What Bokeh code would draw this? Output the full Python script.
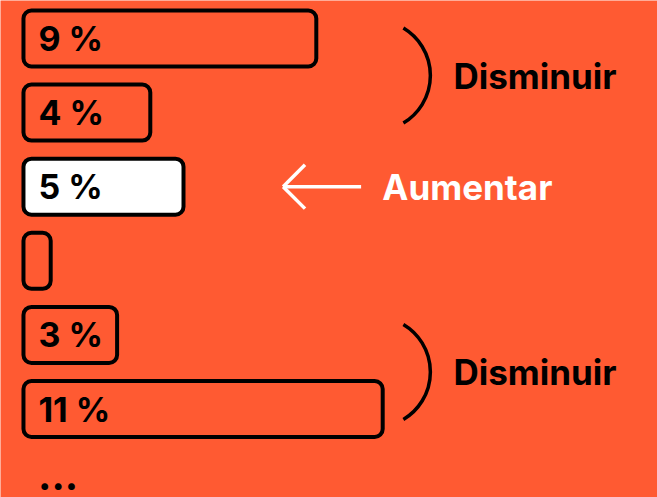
import numpy as np
from bokeh.plotting import figure
from bokeh.models import Range1d
from bokeh.core.properties import value
from bokeh.embed import file_html
from bokeh.resources import INLINE

# ---- data ----
labels = ["9 %", "4 %", "5 %", "", "3 %", "11 %"]
values = [9, 4, 5, 0, 3, 11]
highlight = [False, False, True, False, False, False]
rows = list(range(len(values)))

group_text = ["Disminuir", "Aumentar", "Disminuir"]
group_row = [0.5, 2, 4.5]
group_kind = ["bracket", "arrow", "bracket"]

# ---- style ----
BG = "#FF5A32"
FONT = "Inter"
PX_PER_UNIT = 33.2
ROW_PX = 74.1
W, H = 657, 497
X0_PX = 17      # pixel of value 0
Y0_PX = 38      # pixel of first row center

p = figure(width=W, height=H, output_backend="svg", toolbar_location=None,
           x_range=Range1d(-X0_PX / PX_PER_UNIT, (W - X0_PX) / PX_PER_UNIT),
           y_range=Range1d((H - Y0_PX) / ROW_PX, -Y0_PX / ROW_PX),
           min_border=0, background_fill_color=BG, border_fill_color=BG,
           outline_line_color=None)
p.xaxis.visible = False
p.yaxis.visible = False
p.xgrid.visible = False
p.ygrid.visible = False

bar_left = 0.18
disp_right = list(np.maximum(np.array(values, dtype=float), 1.0))
fills = ["white" if h else BG for h in highlight]

p.hbar(y=rows, left=bar_left, right=disp_right, height=0.756,
       fill_color=fills, line_color="black", line_width=4, border_radius=8)

p.text(x=[0.63] * len(rows), y=rows, text=labels, text_font=value(FONT),
       text_font_style="bold", text_font_size="34px", text_color="black",
       text_baseline="middle", text_align="left")

# brackets
b_rows = [r for r, k in zip(group_row, group_kind) if k == "bracket"]
b_text = [t for t, k in zip(group_text, group_kind) if k == "bracket"]
p.arc(x=[10.77] * len(b_rows), y=b_rows, radius=55.3, radius_units="screen",
      start_angle=-1.033, end_angle=1.033, line_color="black", line_width=3.5)
p.text(x=[13.13] * len(b_rows), y=b_rows, text=b_text, text_font=value(FONT),
       text_font_style="bold", text_font_size="35px", text_color="black",
       text_baseline="middle", text_align="left")

# arrow
a_rows = [r for r, k in zip(group_row, group_kind) if k == "arrow"]
a_text = [t for t, k in zip(group_text, group_kind) if k == "arrow"]
for ang, ln in [(0.0, 78), (np.pi / 4, 31), (-np.pi / 4, 31)]:
    p.ray(x=[8.0] * len(a_rows), y=a_rows, length=ln, length_units="screen",
          angle=ang, line_color="white", line_width=3.5)
p.text(x=[10.99] * len(a_rows), y=a_rows, text=a_text, text_font=value(FONT),
       text_font_style="bold", text_font_size="35px", text_color="white",
       text_baseline="middle", text_align="left")

# ellipsis
p.text(x=[0.62], y=[5.9], text=["..."], text_font=value(FONT),
       text_font_style="bold", text_font_size="40px", text_color="black",
       text_baseline="middle", text_align="left")

open("out.html", "w").write(file_html(p, INLINE))
